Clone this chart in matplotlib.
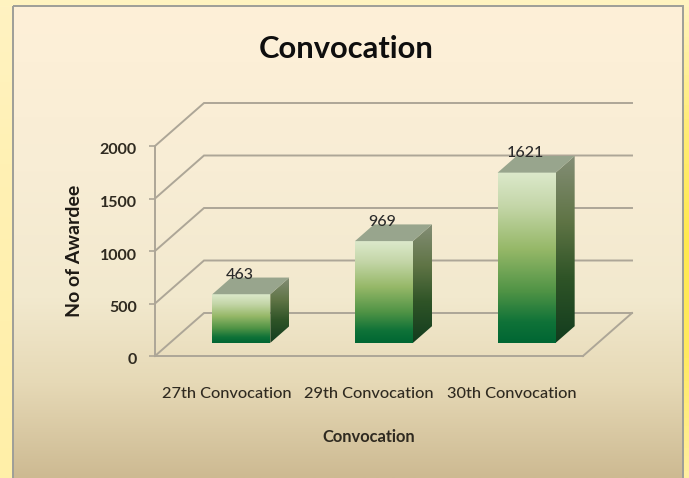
import numpy as np
import matplotlib
matplotlib.use("Agg")
import matplotlib.pyplot as plt
from matplotlib.colors import LinearSegmentedColormap as LSC
from matplotlib.patches import Polygon, Rectangle
from matplotlib.transforms import ScaledTranslation

categories = ["27th Convocation", "29th Convocation", "30th Convocation"]
values = [463, 969, 1621]
yticks = [0, 500, 1000, 1500, 2000]
title = "Convocation"
xlabel = "Convocation"
ylabel = "No of Awardee"

W, H = 689, 478
plt.rcParams['font.family'] = ['Lato', 'DejaVu Sans']
fig = plt.figure(figsize=(W / 100, H / 100), dpi=100)

# background
bg = fig.add_axes([0, 0, 1, 1], zorder=0)
bg.set_xlim(0, W); bg.set_ylim(H, 0); bg.axis("off")
outer = LSC.from_list("o", ["#FFF3C2", "#FFF1B4", "#FFF0AE", "#FFEFA8"])
bg.imshow(np.linspace(0, 1, 64)[:, None], cmap=outer, extent=(0, 13, H, 0), aspect="auto", zorder=0)
bg.add_patch(Rectangle((0, 0), W, 6, color="#FFF3C0", lw=0, zorder=0))
right = LSC.from_list("r", ["#FFF3C0", "#FFEC78", "#FFE94E", "#FFEA60", "#FFEFA0"])
bg.imshow(np.linspace(0, 1, 64)[:, None], cmap=right, extent=(683, W, H, 0), aspect="auto", zorder=0)
panel = LSC.from_list("p", [(0, "#FEF0D8"), (0.35, "#F8EDD5"), (0.62, "#F2E9CE"),
                            (0.8, "#E6D9B6"), (1, "#CDBA92")])
bg.imshow(np.linspace(0, 1, 256)[:, None], cmap=panel, extent=(13, 683, H, 6), aspect="auto", zorder=1)
bg.add_patch(Rectangle((13, 6), 670, H, fill=False, ec="#9E9E98", lw=1.4, zorder=2))
bg.set_xlim(0, W); bg.set_ylim(H, 0)

# plot axes = front plane of the chart
L, R, B, T = 155, 583, 356, 146
ax = fig.add_axes([L / W, 1 - B / H, (R - L) / W, (B - T) / H], zorder=1)
ax.patch.set_alpha(0)
x = np.arange(len(categories))
ax.set_xlim(-0.5, 2.5)
ax.set_ylim(0, 2000)

px_x = 3 / (R - L)
px_y = 2000 / (B - T)
DX, DY = 49 * px_x, 43 * px_y
def pr(xv, yv, d):
    return (xv + d * DX, yv + d * DY)

GRID = "#ADA697"
LW = 1.4
for t in yticks:
    p0 = pr(-0.5, t, 0); p1 = pr(-0.5, t, 1); p2 = pr(2.5, t, 1)
    ax.plot([p0[0], p1[0], p2[0]], [p0[1], p1[1], p2[1]], color=GRID, lw=LW,
            clip_on=False, zorder=1, solid_joinstyle="miter")
p0 = pr(2.5, 0, 0); p1 = pr(2.5, 0, 1)
ax.plot([p0[0], p1[0]], [p0[1], p1[1]], color=GRID, lw=LW, clip_on=False, zorder=1)

# bars
front_c = LSC.from_list("f", [(0, "#DCE9CB"), (0.2, "#C4D6A8"), (0.45, "#96B868"),
                              (0.7, "#4F9345"), (0.88, "#0F7238"), (1, "#006633")])
side_c = LSC.from_list("s", [(0, "#848E76"), (0.35, "#5F7445"), (0.65, "#2F5427"), (1, "#123C1E")])
bar_w = 58 * px_x
d0, d1 = 15 / 49, 34 / 49
grad = np.linspace(0, 1, 256)[:, None]
for xi, v in zip(x, values):
    xa = xi - bar_w / 2
    xb = xi + bar_w / 2
    fb, ft = pr(xa, 0, d0), pr(xb, v, d0)
    im = ax.imshow(grad, cmap=front_c, aspect="auto", zorder=3,
                   extent=(fb[0], ft[0], fb[1], ft[1]))
    sp = [pr(xb, 0, d0), pr(xb, v, d0), pr(xb, v, d1), pr(xb, 0, d1)]
    poly = Polygon(sp, transform=ax.transData)
    im2 = ax.imshow(grad, cmap=side_c, aspect="auto", zorder=3,
                    extent=(sp[0][0], sp[2][0], sp[0][1], sp[2][1]))
    im2.set_clip_box(None)
    im2.set_clip_path(poly)
    ax.add_patch(Polygon([pr(xa, v, d0), pr(xb, v, d0), pr(xb, v, d1), pr(xa, v, d1)],
                         fc="#98A58D", ec="none", zorder=3, clip_on=False))
    lab = pr(xi, v, d0)
    ax.annotate(str(v), xy=lab, xytext=(-1, 14), textcoords="offset points",
                ha="center", va="center", fontsize=11.5, color="#2A2A2A", zorder=5,
                fontweight="medium", annotation_clip=False)
ax.set_xlim(-0.5, 2.5)
ax.set_ylim(0, 2000)

for s in ("top", "right"):
    ax.spines[s].set_visible(False)
for s in ("left", "bottom"):
    ax.spines[s].set_color(GRID)
    ax.spines[s].set_linewidth(LW)
ax.set_xticks(x, categories, fontsize=11.8, fontweight="medium", color="#2F2A20")
ax.tick_params(axis="x", length=0, pad=22)
ax.set_yticks(yticks)
ax.tick_params(axis="y", length=4, width=1.2, color=GRID, pad=9, labelsize=11.5, labelcolor="#2F2A20")
shift = ScaledTranslation(0, -3 / 100, fig.dpi_scale_trans)
for t in ax.get_yticklabels():
    t.set_fontweight("bold")
    t.set_transform(t.get_transform() + shift)

fig.text(369 / W, 1 - 437 / H, xlabel, ha="center", va="center", fontsize=11.9, fontweight="bold", color="#2F2A20")
fig.text(74 / W, 1 - 251 / H, ylabel, ha="center", va="center", rotation=90, fontsize=14, fontweight="bold", color="#1E1A14")
fig.text(346 / W, 1 - 49 / H, title, ha="center", va="center", fontsize=22.2, fontweight="bold", color="#0E0E0E")

fig.savefig("out.png", dpi=100)
